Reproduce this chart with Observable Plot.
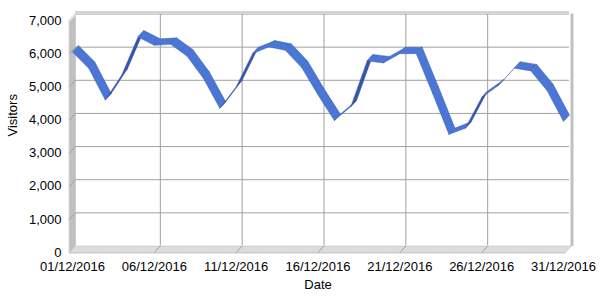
<!DOCTYPE html>
<html><head><meta charset="utf-8">
<script src="https://cdn.jsdelivr.net/npm/d3@7"></script>
<script src="https://cdn.jsdelivr.net/npm/@observablehq/plot@0.6"></script>
<style>body{margin:0;background:#fff}</style>
</head><body><div id="chart"></div>
<script>
const dates = ["01/12/2016","02/12/2016","03/12/2016","04/12/2016","05/12/2016","06/12/2016","07/12/2016","08/12/2016","09/12/2016","10/12/2016","11/12/2016","12/12/2016","13/12/2016","14/12/2016","15/12/2016","16/12/2016","17/12/2016","18/12/2016","19/12/2016","20/12/2016","21/12/2016","22/12/2016","23/12/2016","24/12/2016","25/12/2016","26/12/2016","27/12/2016","28/12/2016","29/12/2016","30/12/2016","31/12/2016"];
const visitors = [6050,5550,4600,5350,6500,6250,6280,5920,5250,4350,5000,6000,6200,6100,5580,4750,3980,4400,5780,5720,6000,6000,4800,3560,3750,4680,5030,5560,5480,4880,3950];
const xTickLabels = ["01/12/2016","06/12/2016","11/12/2016","16/12/2016","21/12/2016","26/12/2016","31/12/2016"];
const yTickValues = [0,1000,2000,3000,4000,5000,6000,7000];
const xTitle = "Date";
const yTitle = "Visitors";

const parse = d3.utcParse("%d/%m/%Y");
const W = 600, H = 300, mL = 72, mR = 37, mT = 20, mB = 48;
const x0 = parse(dates[0]), x1 = parse(dates[dates.length - 1]);
const yMax = yTickValues[yTickValues.length - 1];
const depth = [6, 6.5]; // 3D depth in pixels (right, up)
const msPerPx = (x1 - x0) / (W - mL - mR);
const vPerPx = yMax / (H - mT - mB);
const ddx = depth[0] * msPerPx, ddy = depth[1] * vPerPx;
const sh = d => new Date(+d + ddx);
const tickDates = xTickLabels.map(parse);

const lit = "#4a76d6", dark = "#3656ae";
const pts = dates.map((d, i) => ({x: parse(d), y: visitors[i]}));
const ribbon = [];
for (let i = 0; i < pts.length - 1; i++) {
  const a = pts[i], b = pts[i + 1];
  const sx = (b.x - a.x) / msPerPx, sy = -(b.y - a.y) / vPerPx;
  const cross = sx * (-depth[1]) - sy * depth[0];
  const fill = cross < 0 ? lit : dark;
  [[a.x, a.y], [b.x, b.y], [sh(b.x), b.y + ddy], [sh(a.x), a.y + ddy]]
    .forEach(([x, y]) => ribbon.push({seg: i, x, y, fill}));
}

const padL = 3 * msPerPx, padR = 2 * msPerPx;
const fx0 = new Date(+x0 - padL), fx1 = new Date(+x1 + padR);
const walls = [
  ...[[fx0, 0], [fx0, yMax], [sh(fx0), yMax + ddy], [sh(fx0), ddy]].map(([x, y]) => ({w: "left", x, y, fill: "#c0c0c0"})),
  ...[[fx0, 0], [fx1, 0], [sh(fx1), ddy], [sh(fx0), ddy]].map(([x, y]) => ({w: "floor", x, y, fill: "#dcdcdc"}))
];

const grid = "#a0a0a0";
const chart = Plot.plot({
  width: W, height: H,
  marginLeft: mL, marginRight: mR, marginTop: mT, marginBottom: mB,
  style: {fontFamily: "'Liberation Sans', Arial, sans-serif", fontSize: "13px", color: "#000", background: "#fff", overflow: "visible"},
  x: {type: "utc", domain: [x0, x1], ticks: tickDates, tickFormat: d3.utcFormat("%d/%m/%Y"), tickSize: 0, tickPadding: 9.5, label: null},
  y: {domain: [0, yMax], ticks: yTickValues, tickFormat: d3.format(","), tickSize: 0, tickPadding: 11, label: null},
  color: {type: "identity"},
  marks: [
    // back wall grid
    Plot.ruleY(yTickValues.slice(1), {y: v => v + ddy, x1: () => sh(fx0), x2: () => sh(x1), stroke: grid}),
    Plot.ruleX(tickDates.slice(1, -1), {x: d => sh(d), y1: () => ddy, y2: () => yMax + ddy, stroke: grid}),
    // walls
    Plot.line(walls, {x: "x", y: "y", z: "w", fill: "fill", stroke: "#b8b8b8", strokeWidth: 0.5, curve: "linear-closed"}),
    Plot.ruleY([yMax + ddy], {x1: () => sh(fx0), x2: () => sh(x1), stroke: "#d4d4d4", strokeWidth: 3, dy: -1.5}),
    Plot.ruleX([x1], {x: d => sh(d), y1: () => ddy - 0.5 * vPerPx, y2: () => yMax + ddy, stroke: "#c0c0c0", strokeWidth: 3, dx: 2.5}),
    Plot.link([yMax], {x1: () => fx0, y1: v => v, x2: () => sh(fx0), y2: v => v + ddy, stroke: "#e2e2e2", strokeWidth: 2}),
    Plot.ruleX([fx0], {y1: () => 0, y2: () => yMax, stroke: "#d0d0d0", strokeWidth: 1, dx: -0.5}),
    Plot.ruleY([0], {x1: () => fx0, x2: () => fx1, stroke: "#c8c8c8", strokeWidth: 1, dy: 0.5}),
    // diagonals across left wall and floor
    Plot.link(yTickValues.slice(1, -1), {x1: () => fx0, y1: v => v, x2: () => sh(fx0), y2: v => v + ddy, stroke: grid}),
    Plot.link(tickDates.slice(1, -1), {x1: d => d, y1: () => 0, x2: d => sh(d), y2: () => ddy, stroke: grid}),
    // ribbon
    Plot.line(ribbon, {x: "x", y: "y", z: "seg", fill: "fill", stroke: "#34519e", strokeWidth: 0.4, curve: "linear-closed"}),
    // titles
    Plot.text([xTitle], {text: d => d, frameAnchor: "bottom", dy: 36, fontSize: 13}),
    Plot.text([yTitle], {text: d => d, frameAnchor: "left", dx: -60, rotate: -90, fontSize: 13})
  ]
});
document.getElementById("chart").appendChild(chart);
</script>
</body></html>
